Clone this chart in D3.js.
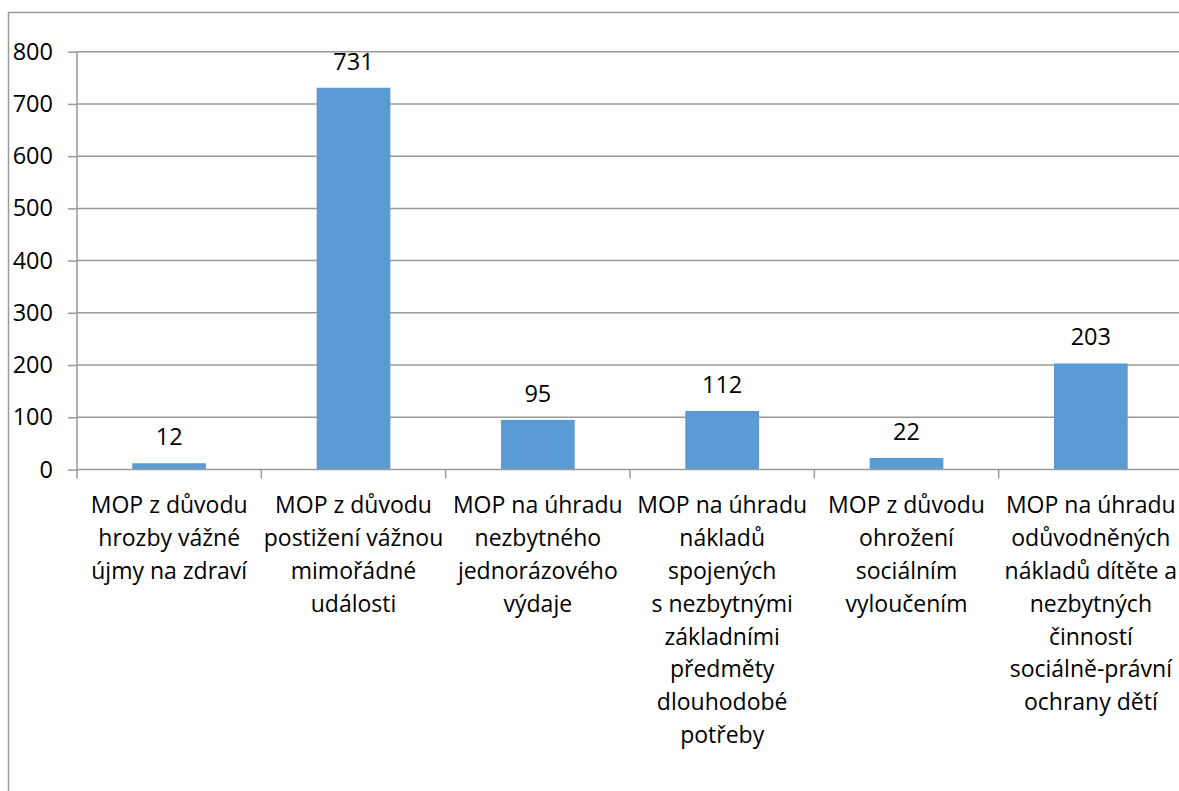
<!DOCTYPE html>
<html>
<head>
<meta charset="utf-8">
<script src="https://cdn.jsdelivr.net/npm/d3@7"></script>
<style>
	body { margin: 0; background: #fff; }
	svg text { font-family: "Open Sans", "Noto Sans", sans-serif; fill: #000; }
</style>
</head>
<body>
<div id="chart"></div>
<script>
'use strict'
// category labels, already broken into lines as in the picture
var categories = [
	["MOP z důvodu", "hrozby vážné", "újmy na zdraví"],
	["MOP z důvodu", "postižení vážnou", "mimořádné", "události"],
	["MOP na úhradu", "nezbytného", "jednorázového", "výdaje"],
	["MOP na úhradu", "nákladů", "spojených", "s nezbytnými", "základními", "předměty", "dlouhodobé", "potřeby"],
	["MOP z důvodu", "ohrožení", "sociálním", "vyloučením"],
	["MOP na úhradu", "odůvodněných", "nákladů dítěte a", "nezbytných", "činností", "sociálně-právní", "ochrany dětí"]
];
var values = [12, 731, 95, 112, 22, 203];
var yTicks = [0, 100, 200, 300, 400, 500, 600, 700, 800];

var W = 1179, H = 791;
var x0 = 77, x1 = 1183, yTop = 51.7, yBottom = 469.5;

var svg = d3.select("#chart").append("svg")
	.attr("width", W).attr("height", H);

// outer frame, cut off on the right and bottom
svg.append("rect")
	.attr("x", 8.5).attr("y", 12.5)
	.attr("width", W + 20).attr("height", H + 20)
	.style("fill", "none")
	.style("stroke", "#9a9a9a")
	.style("stroke-width", 1.5);

var idx = d3.range(categories.length);
var xScale = d3.scaleBand().domain(idx).range([x0, x1]).padding(0);
var yScale = d3.scaleLinear().domain([0, 800]).range([yBottom, yTop]);

// y axis ticks and labels
var yAxis = d3.axisLeft(yScale).tickValues(yTicks).tickSize(9).tickPadding(15);
var gy = svg.append("g").attr("transform", "translate(" + x0 + ",0)").call(yAxis);
gy.select(".domain").remove();
gy.selectAll(".tick line").style("stroke", "#9a9a9a").style("stroke-width", 1.5);
gy.selectAll(".tick text")
	.style("font-size", "23.5px")
	.style("font-family", "'Open Sans', sans-serif")
	.attr("fill", "#000");

// gridlines
svg.append("g")
	.selectAll("line.grid")
	.data(yTicks.filter(function(t){ return t > 0; }))
	.enter().append("line")
	.attr("class", "grid")
	.attr("x1", x0).attr("x2", W)
	.attr("y1", function(d){ return yScale(d); })
	.attr("y2", function(d){ return yScale(d); })
	.style("stroke", "#9a9a9a")
	.style("stroke-width", 1.5);

// y axis line
svg.append("line")
	.attr("x1", x0).attr("x2", x0)
	.attr("y1", yTop).attr("y2", yBottom)
	.style("stroke", "#9a9a9a")
	.style("stroke-width", 1.5);

// bars
var barW = xScale.bandwidth() * 0.4;
svg.append("g")
	.selectAll("rect.bar")
	.data(values)
	.enter().append("rect")
	.attr("class", "bar")
	.attr("x", function(d, i){ return xScale(i) + (xScale.bandwidth() - barW) / 2; })
	.attr("y", function(d){ return yScale(d); })
	.attr("width", barW)
	.attr("height", function(d){ return yBottom - yScale(d); })
	.style("fill", "#5b9bd5");

// x axis line and category ticks
svg.append("line")
	.attr("x1", x0).attr("x2", W)
	.attr("y1", yBottom).attr("y2", yBottom)
	.style("stroke", "#9a9a9a")
	.style("stroke-width", 1.5);
svg.append("g")
	.selectAll("line.ctick")
	.data(d3.range(categories.length + 1))
	.enter().append("line")
	.attr("class", "ctick")
	.attr("x1", function(i){ return x0 + i * xScale.bandwidth(); })
	.attr("x2", function(i){ return x0 + i * xScale.bandwidth(); })
	.attr("y1", yBottom).attr("y2", yBottom + 9)
	.style("stroke", "#9a9a9a")
	.style("stroke-width", 1.5);

// value labels
svg.append("g")
	.selectAll("text.val")
	.data(values)
	.enter().append("text")
	.attr("class", "val")
	.attr("x", function(d, i){ return xScale(i) + xScale.bandwidth() / 2; })
	.attr("y", function(d){ return yScale(d) - 18; })
	.attr("text-anchor", "middle")
	.style("font-size", "23.5px")
	.text(function(d){ return d; });

// category labels
var lineH = 32.8;
var cat = svg.append("g")
	.selectAll("text.cat")
	.data(categories)
	.enter().append("text")
	.attr("class", "cat")
	.attr("text-anchor", "middle")
	.style("font-size", "23px");
cat.selectAll("tspan")
	.data(function(d, i){ return d.map(function(s){ return {s: s, i: i}; }); })
	.enter().append("tspan")
	.attr("x", function(d){ return xScale(d.i) + xScale.bandwidth() / 2; })
	.attr("y", function(d, j){ return 513.3 + j * lineH; })
	.text(function(d){ return d.s; });
</script>
</body>
</html>
